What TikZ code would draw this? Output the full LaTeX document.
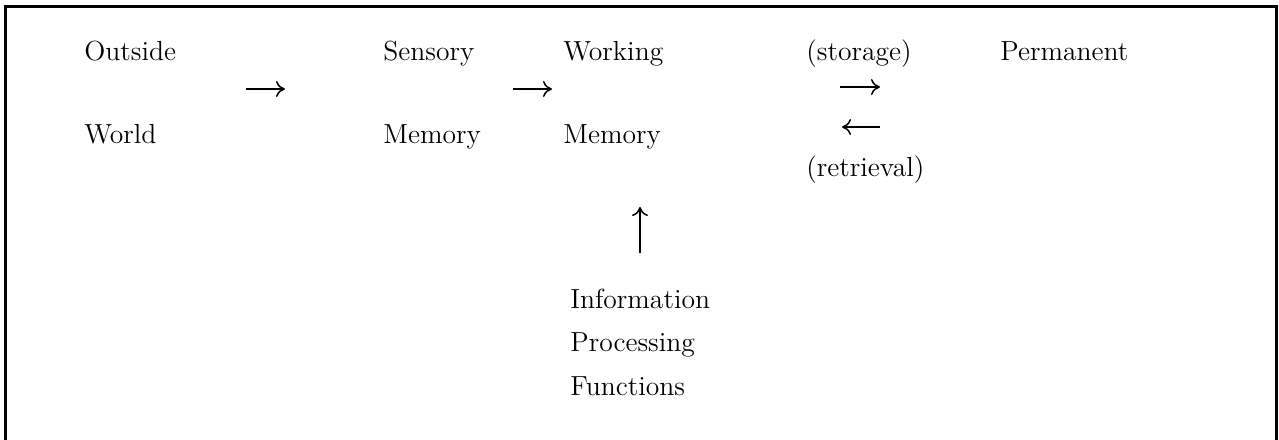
\documentclass[tikz,border=0pt]{standalone}
\usetikzlibrary{arrows.meta}
\begin{document}
\begin{tikzpicture}[x=0.5pt,y=-0.5pt,
  lbl/.style={anchor=base west,inner sep=0pt,font=\fontsize{13.8}{16}\selectfont},
  flow/.style={line width=0.75pt,-{To[length=4.5pt,width=8pt]}},
  frame/.style={line width=1.3pt}]
\useasboundingbox (0,0) rectangle (1279,439);
\draw[frame] (5.5,445) -- (5.5,6.5) -- (1276.5,6.5) -- (1276.5,445);
% texts
\node[lbl] (outside) at (84,60) {Outside};
\node[lbl] (world) at (84,143) {World};
\node[lbl] (sensory) at (383,60) {Sensory};
\node[lbl] (smem) at (383,143) {Memory};
\node[lbl] (working) at (563,60) {Working};
\node[lbl] (wmem) at (563,143) {Memory};
\node[lbl] (storage) at (806,60) {(storage)};
\node[lbl] (retrieval) at (806,176) {(retrieval)};
\node[lbl] (permanent) at (1000,60) {Permanent};
\node[lbl] (info) at (570,308) {Information};
\node[lbl] (proc) at (570,351) {Processing};
\node[lbl] (func) at (570,395) {Functions};
% arrow ends
\coordinate (a1s) at (246,89);  \coordinate (a1e) at (285,89);
\coordinate (a2s) at (513,89);  \coordinate (a2e) at (552,89);
\coordinate (a3s) at (840,87);  \coordinate (a3e) at (880,87);
\coordinate (a4s) at (880,127); \coordinate (a4e) at (842,127);
\coordinate (a5s) at (640,253); \coordinate (a5e) at (640,207);
\draw[flow] (a1s) -- (a1e);
\draw[flow] (a2s) -- (a2e);
\draw[flow] (a3s) -- (a3e);
\draw[flow] (a4s) -- (a4e);
\draw[flow] (a5s) -- (a5e);
\end{tikzpicture}
\end{document}
